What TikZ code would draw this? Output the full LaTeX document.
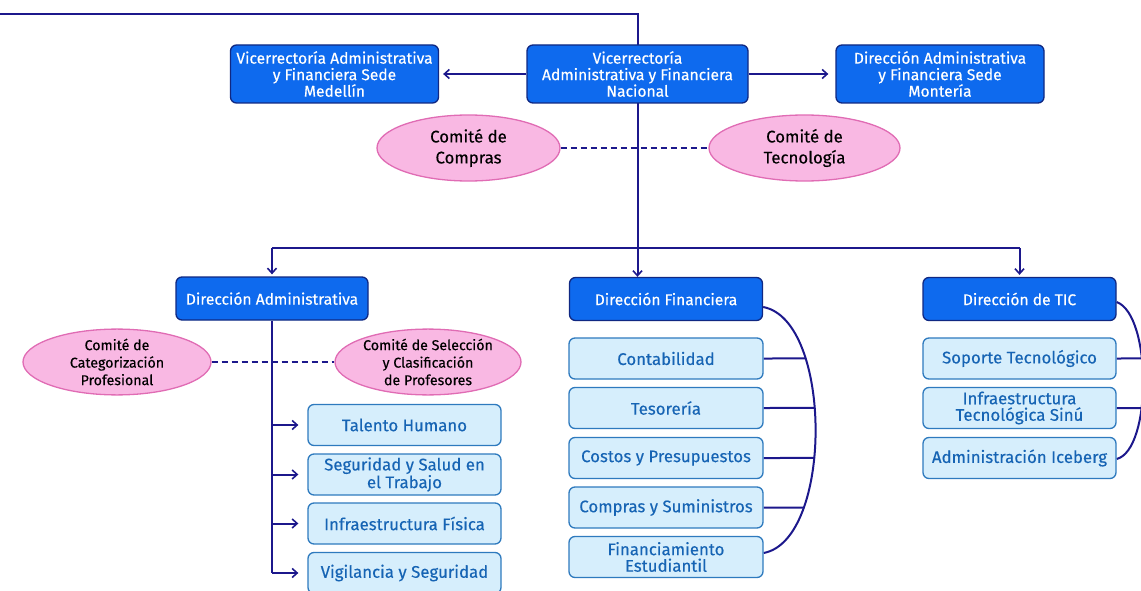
\documentclass[tikz,border=0pt]{standalone}
\usepackage{fontspec}
\setmainfont{Fira Sans}[FakeBold=0.3]
\usetikzlibrary{shapes.geometric,arrows.meta,intersections,backgrounds,calc}
\definecolor{navy}{RGB}{28,24,140}
\definecolor{dfill}{RGB}{14,106,238}
\definecolor{dborder}{RGB}{16,40,130}
\definecolor{lfill}{RGB}{214,238,252}
\definecolor{lborder}{RGB}{46,122,190}
\definecolor{ltext}{RGB}{22,100,180}
\definecolor{pfill}{RGB}{249,184,227}
\definecolor{pborder}{RGB}{224,108,180}
\tikzset{
  darkbox/.style={draw=dborder, line width=1.3pt, fill=dfill, rounded corners=6pt, text=white, align=center, inner sep=0pt, font=\fontsize{15.6}{16.5}\selectfont},
  lightbox/.style={draw=lborder, line width=1.3pt, fill=lfill, rounded corners=6pt, text=ltext, align=center, inner sep=0pt, minimum height=41pt, font=\fontsize{16.8}{16.5}\selectfont},
  comite/.style={ellipse, draw=pborder, line width=1.3pt, fill=pfill, text=black, align=center, inner sep=0pt, font=\fontsize{14.2}{17.5}\selectfont},
  bigcomite/.style={comite, font=\fontsize{16.8}{21}\selectfont},
  conn/.style={draw=navy, line width=2pt},
  arr/.style={conn, -{Straight Barb[length=5pt,width=9pt,line width=1.6pt]}},
  dash line/.style={conn, dash pattern=on 6pt off 4pt},
}
\begin{document}
\begin{tikzpicture}[x=1pt,y=-1pt]
\useasboundingbox (0,0) rectangle (1141,591);
% top level
\node[darkbox, minimum width=221pt, minimum height=58pt] (vafn) at (637.5,74) {Vicerrectoría\\Administrativa y Financiera\\Nacional};
\node[darkbox, minimum width=208pt, minimum height=58pt] (med) at (334.5,74) {Vicerrectoría Administrativa\\y Financiera Sede\\Medellín};
\node[darkbox, minimum width=208pt, minimum height=58pt] (mon) at (940,74) {Dirección Administrativa\\y Financiera Sede\\Montería};
\node[bigcomite, minimum width=183pt, minimum height=66pt] (ccomp) at (468.5,148) {Comité de\\Compras};
\node[bigcomite, minimum width=191pt, minimum height=66pt] (ctec) at (804.5,148) {Comité de\\Tecnología};
% second level
\node[darkbox, minimum width=192pt, minimum height=43pt] (dirA) at (272,298.5) {Dirección Administrativa};
\node[darkbox, minimum width=193pt, minimum height=43pt] (dirF) at (666,299) {Dirección Financiera};
\node[darkbox, minimum width=193pt, minimum height=43pt] (dirT) at (1019.5,299) {Dirección de TIC};
\node[comite, minimum width=188pt, minimum height=64pt] (ccat) at (117,362) {Comité de\\Categorización\\Profesional};
\node[comite, minimum width=186pt, minimum height=64pt] (csel) at (428,362) {Comité de Selección\\y Clasificación\\de Profesores};
% admin subs
\node[lightbox, minimum width=193pt] (a1) at (404.5,425) {Talento Humano};
\node[lightbox, minimum width=193pt] (a2) at (404.5,474.5) {Seguridad y Salud en\\el Trabajo};
\node[lightbox, minimum width=193pt] (a3) at (404.5,523.5) {Infraestructura Física};
\node[lightbox, minimum width=193pt] (a4) at (404.5,573) {Vigilancia y Seguridad};
% financiera subs
\node[lightbox, minimum width=194pt] (f1) at (666,358.5) {Contabilidad};
\node[lightbox, minimum width=194pt] (f2) at (666,408) {Tesorería};
\node[lightbox, minimum width=194pt] (f3) at (666,458) {Costos y Presupuestos};
\node[lightbox, minimum width=194pt] (f4) at (666,507.5) {Compras y Suministros};
\node[lightbox, minimum width=194pt] (f5) at (666,557) {Financiamiento\\Estudiantil};
% TIC subs
\node[lightbox, minimum width=193pt] (t1) at (1019.5,358.5) {Soporte Tecnológico};
\node[lightbox, minimum width=193pt] (t2) at (1019.5,408) {Infraestructura\\Tecnológica Sinú};
\node[lightbox, minimum width=193pt] (t3) at (1019.5,458) {Administración Iceberg};
\coordinate (tl) at (0,14);
\coordinate (spine) at (637.5,248);
\begin{scope}[on background layer]
\draw[conn] (tl) -| (spine);
\draw[arr] (spine) -- (dirF.north -| spine);
\draw[conn] (dirA.north |- spine) -- (dirT.north |- spine);
\draw[arr, shorten >=2pt] (dirA.north |- spine) -- (dirA.north);
\draw[arr, shorten >=2pt] (dirT.north |- spine) -- (dirT.north);
\draw[arr, shorten >=4pt] (vafn.west) -- (med.east);
\draw[arr, shorten >=7pt] (vafn.east) -- (mon.west);
\draw[dash line] (ccomp.east) -- (ctec.west);
\draw[dash line] (ccat.east) -- (csel.west);
\draw[conn] (dirA.south) -- (dirA.south |- a4.west);
\foreach \n in {a1,a2,a3,a4} \draw[arr, shorten >=9pt] (dirA.south |- \n.west) -- (\n.west);
% financiera arc
\draw[conn, name path=arcF] ($(dirF.east)+(0,8)$) .. controls (833,320) and (833,540) .. ($(f5.east)+(0,-4)$);
\foreach \n in {f1,f2,f3,f4} {
  \path[name path=h\n] (\n.east) -- ++(120,0);
  \draw[conn, name intersections={of=arcF and h\n}] (\n.east) -- (intersection-1);
}
% TIC arc
\draw[conn, name path=arcT] ($(dirT.east)+(0,3)$) .. controls (1152,315) and (1152,450) .. ($(t3.east)+(0,1)$);
\foreach \n in {t1,t2} {
  \path[name path=h\n] (\n.east) -- ++(120,0);
  \draw[conn, name intersections={of=arcT and h\n}] (\n.east) -- (intersection-1);
}
\end{scope}
\end{tikzpicture}
\end{document}
